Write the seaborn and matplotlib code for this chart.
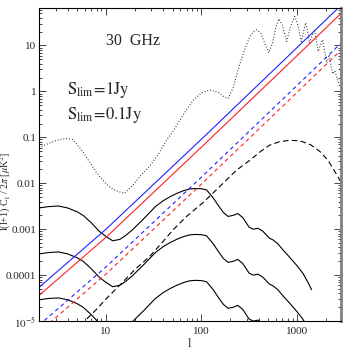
import numpy as np
import pandas as pd
import matplotlib
matplotlib.use("Agg")
import matplotlib.pyplot as plt
import seaborn as sns
from matplotlib.ticker import LogLocator, NullFormatter

# ---------------- data ----------------
ell_cmb = [2, 2.5, 3, 3.8, 4.5, 5.5, 6.7, 8, 10, 12,
           15.5, 19, 22.7, 29, 36, 43, 50, 59, 70, 83,
           100, 122, 150, 170, 190, 215, 240, 274, 318, 350,
           380, 420, 460, 507, 560, 600, 646, 700, 780, 850,
           946, 1020, 1110, 1170, 1230, 1290, 1350, 1430, 1520, 1590,
           1660, 1750, 1850, 1950, 2050, 2170, 2270, 2360, 2490, 2650,
           2800]
cl_cmb = [0.06, 0.073, 0.085, 0.095, 0.09, 0.055, 0.03, 0.017, 0.0098, 0.0073,
          0.006, 0.0088, 0.014, 0.024, 0.045, 0.086, 0.13, 0.23, 0.4, 0.66,
          0.92, 1.08, 0.95, 0.78, 0.7, 1.2, 2.8, 6.8, 15, 20,
          22, 18, 11, 6.9, 12, 25, 38, 28, 12.2, 25,
          43, 28, 12.2, 20, 31, 20, 11.3, 16, 22, 13,
          7.4, 10, 13.3, 7, 4.2, 6.3, 3.5, 2.4, 2.8, 1.8,
          1.3]

ell_src = [2, 2.5, 3.2, 4, 5, 5.8, 7, 8.6, 10, 11.8,
           14, 16, 19, 25, 33, 40, 47, 55, 65, 75,
           85, 100, 113, 132, 150, 170, 190, 215, 240, 270,
           316, 350, 390, 440, 513, 565, 630, 716, 830, 1000,
           1150, 1300, 1420]
src_top = [0.0029, 0.0031, 0.0032, 0.0029, 0.0024, 0.002, 0.0014, 0.00089, 0.0007, 0.00056,
           0.0006, 0.00072, 0.00097, 0.0017, 0.0031, 0.0042, 0.0051, 0.006, 0.0069, 0.0075,
           0.0077, 0.0076, 0.0072, 0.0049, 0.0033, 0.0023, 0.0019, 0.002, 0.0022, 0.0018,
           0.0011, 0.001, 0.00105, 0.0009, 0.00064, 0.00058, 0.00048, 0.00035, 0.00025, 0.00016,
           0.00011, 7e-5, 4.8e-5]
src_mid = [2.9e-4, 3.1e-4, 3.2e-4, 2.9e-4, 2.4e-4, 2.0e-4, 1.4e-4, 8.9e-5, 7.0e-5, 5.6e-5,
           6.0e-5, 7.2e-5, 9.7e-5, 1.7e-4, 3.1e-4, 4.2e-4, 5.1e-4, 6.0e-4, 6.9e-4, 7.5e-4,
           7.7e-4, 7.6e-4, 7.2e-4, 4.9e-4, 3.3e-4, 2.3e-4, 1.9e-4, 2.0e-4, 2.2e-4, 1.8e-4,
           1.1e-4, 1.0e-4, 1.05e-4, 9.0e-5, 6.4e-5, 5.8e-5, 4.8e-5, 3.5e-5, 2.5e-5, 1.6e-5,
           1.1e-5, 7e-6, 4.8e-6]
src_low = [2.9e-5, 3.1e-5, 3.2e-5, 2.9e-5, 2.4e-5, 2.0e-5, 1.4e-5, 8.9e-6, 7.0e-6, 5.6e-6,
           6.0e-6, 7.2e-6, 9.7e-6, 1.7e-5, 3.1e-5, 4.2e-5, 5.1e-5, 6.0e-5, 6.9e-5, 7.5e-5,
           7.7e-5, 7.6e-5, 7.2e-5, 4.9e-5, 3.3e-5, 2.3e-5, 1.9e-5, 2.0e-5, 2.2e-5, 1.8e-5,
           1.1e-5, 1.0e-5, 1.05e-5, 9.0e-6, 6.4e-6, 5.8e-6, 4.8e-6, 3.5e-6, 2.5e-6, 1.6e-6,
           1.1e-6, 7e-7, 4.8e-7]

ell_dash = [5.5, 6, 8, 10, 15, 20, 29, 40, 50.6, 70,
            104, 150, 231, 316, 420, 513, 650, 830, 1000, 1150,
            1400, 1720, 2100, 2570, 2850]
cl_dash = [8e-6, 1e-5, 1.8e-5, 3e-5, 7e-5, 1.3e-4, 2.6e-4, 5.5e-4, 9.7e-4, 0.0019,
           0.0038, 0.0079, 0.019, 0.031, 0.05, 0.067, 0.08, 0.086, 0.085, 0.08,
           0.068, 0.05, 0.032, 0.016, 0.011]

ell_pois = [2, 10, 100, 1000, 3000]
pois_1jy_a = [5.4e-5, 9.9e-4, 0.091, 9.0, 81.0]     # blue solid
pois_1jy_b = [3.6e-5, 6.6e-4, 0.061, 6.0, 54.0]     # red solid
pois_01jy_a = [8.1e-6, 1.5e-4, 0.0136, 1.35, 12.2]  # blue dashed
pois_01jy_b = [5.7e-6, 1.05e-4, 0.0096, 0.95, 8.6]  # red dashed

y_tick_vals = [1e-5, 1e-4, 1e-3, 1e-2, 0.1, 1, 10]
y_tick_labels = [r"$10^{-5}$", "0.0001", "0.001", "0.01", "0.1", "1", "10"]
x_tick_vals = [10, 100, 1000]
x_tick_labels = ["10", "100", "1000"]

# ---------------- plotting ----------------
sns.set_style("ticks")
plt.rcParams["font.family"] = ["Liberation Serif", "DejaVu Serif"]
plt.rcParams["mathtext.fontset"] = "stix"

fig = plt.figure(figsize=(3.54, 3.54), dpi=100)
ax = fig.add_axes([0.110, 0.093, 0.852, 0.884])

lw = 0.8
sns.lineplot(x=ell_cmb, y=cl_cmb, ax=ax, color="#222222", lw=lw,
             linestyle=(0, (0.8, 1.8)), estimator=None, sort=False)
for ys in (src_top, src_mid, src_low):
    sns.lineplot(x=ell_src, y=ys, ax=ax, color="black", lw=lw,
                 estimator=None, sort=False)
sns.lineplot(x=ell_dash, y=cl_dash, ax=ax, color="black", lw=lw,
             linestyle=(0, (5, 3)), estimator=None, sort=False)
sns.lineplot(x=ell_pois, y=pois_1jy_a, ax=ax, color="#2020ff", lw=lw,
             estimator=None, sort=False)
sns.lineplot(x=ell_pois, y=pois_1jy_b, ax=ax, color="#ff2020", lw=lw,
             estimator=None, sort=False)
sns.lineplot(x=ell_pois, y=pois_01jy_a, ax=ax, color="#2020ff", lw=lw,
             linestyle=(0, (3.5, 3)), estimator=None, sort=False)
sns.lineplot(x=ell_pois, y=pois_01jy_b, ax=ax, color="#ff2020", lw=lw,
             linestyle=(0, (3.5, 3)), estimator=None, sort=False)

ax.set_xscale("log")
ax.set_yscale("log")
ax.set_xlim(2, 2850)
ax.set_ylim(1e-5, 65)

ax.set_yticks(y_tick_vals)
ax.set_yticklabels(y_tick_labels)
ax.set_xticks(x_tick_vals)
ax.set_xticklabels(x_tick_labels)
ax.xaxis.set_minor_locator(LogLocator(base=10, subs=np.arange(2, 10)))
ax.yaxis.set_minor_locator(LogLocator(base=10, subs=np.arange(2, 10)))
ax.xaxis.set_minor_formatter(NullFormatter())
ax.yaxis.set_minor_formatter(NullFormatter())

ax.tick_params(which="both", direction="in", top=True, right=True,
               labelsize=8, width=0.6)
ax.tick_params(which="major", length=5)
ax.tick_params(which="minor", length=2.5)
ax.tick_params(axis="y", pad=2)
ax.tick_params(axis="x", pad=4)

for s in ax.spines.values():
    s.set_linewidth(0.8)
    s.set_color("black")
ax.spines["right"].set_linewidth(2.0)
ax.spines["right"].set_color("#808080")

ax.set_xlabel("l", fontsize=9, labelpad=2)
ax.set_ylabel(r"l(l+1) C$_\mathrm{l}$ / 2$\pi$ [$\mu$K$^2$]", fontsize=7.2)
ax.yaxis.set_label_coords(-0.1094, 0.415)
ax.yaxis.label.set_va("center")

ax.text(0.222, 0.896, "30  GHz", transform=ax.transAxes, fontsize=11.5,
        ha="left", va="center")
ax.text(0.092, 0.74, r"$\mathrm{S_{lim}\!=\!1Jy}$", transform=ax.transAxes,
        fontsize=12, ha="left", va="center")
ax.text(0.092, 0.658, r"$\mathrm{S_{lim}\!=\!0.1Jy}$", transform=ax.transAxes,
        fontsize=12, ha="left", va="center")

fig.savefig("out.png", dpi=100)
